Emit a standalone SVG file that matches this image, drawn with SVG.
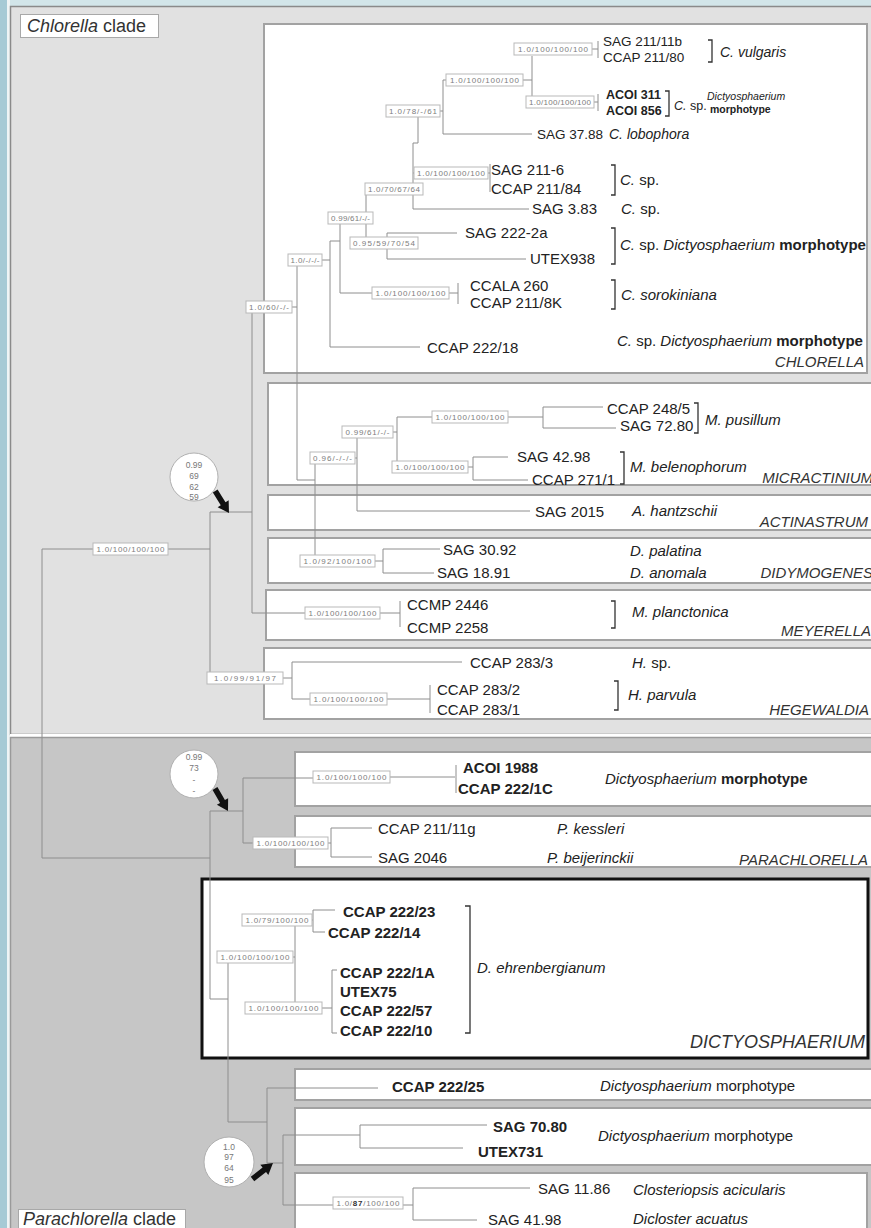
<svg xmlns="http://www.w3.org/2000/svg" xmlns:xlink="http://www.w3.org/1999/xlink" width="871" height="1228" viewBox="0 0 871 1228">
<style>
  text { font-family: "Liberation Sans", Arial, sans-serif; fill: #222; }
  .s15 { font-size: 15px; }
  .s14 { font-size: 14px; }
  .s13 { font-size: 13.5px; }
  .s12 { font-size: 12.5px; }
  .s10 { font-size: 10.5px; }
  .b { font-weight: bold; }
  .i { font-style: italic; }
  .genus { font-size: 15px; font-style: italic; text-anchor: end; fill: #333; }
  .box { fill: #fff; stroke: #a2a2a2; stroke-width: 2; }
  .ln { fill: none; stroke: #8e8e8e; stroke-width: 1; }
  .br { fill: none; stroke: #333; stroke-width: 1.3; }
  .lb rect { fill: #fff; stroke: #b9b9b9; stroke-width: 1; }
  .lb text { font-size: 8px; fill: #7d7d7d; text-anchor: middle; }
  .bub circle { fill: #fff; stroke: #b0b0b0; stroke-width: 1; }
  .bub text { font-size: 8.5px; fill: #777; text-anchor: middle; }
  .arw { fill: #111; }
  .clade rect { fill: #fff; stroke: #a8a8a8; stroke-width: 1; }
  .clade text { font-size: 18px; fill: #333; }
</style>
<defs>
  <path id="arrow" d="M0,-2.8 L15,-2.8 L15,-6.5 L26,0 L15,6.5 L15,2.8 L0,2.8 Z"/>
</defs>

<!-- page background and panels -->
<rect x="0" y="0" width="871" height="1228" fill="#d2e5e9"/>
<rect x="0" y="0" width="7" height="1228" fill="#a6cad5"/>
<rect x="7" y="0" width="3" height="1228" fill="#eef4f5"/>
<rect x="10.5" y="6.5" width="870" height="728" fill="#e1e1e1" stroke="#8a8a8a" stroke-width="1.5"/>
<rect x="10" y="734" width="861" height="3" fill="#ffffff"/>
<rect x="10.5" y="737.5" width="870" height="500" fill="#c6c6c6" stroke="#9a9a9a" stroke-width="1.5"/>

<!-- genus boxes -->
<g id="boxes">
  <rect class="box" x="264" y="24" width="603" height="349"/>
  <rect class="box" x="268" y="383" width="610" height="102"/>
  <rect class="box" x="268" y="495" width="610" height="35"/>
  <rect class="box" x="268" y="538" width="610" height="45"/>
  <rect class="box" x="266" y="590" width="612" height="50"/>
  <rect class="box" x="264" y="648" width="614" height="71"/>
  <rect class="box" x="295" y="752" width="583" height="54"/>
  <rect class="box" x="295" y="816" width="583" height="51"/>
  <rect x="202" y="879" width="666" height="179" fill="#fff" stroke="#111" stroke-width="3"/>
  <rect class="box" x="295" y="1069" width="583" height="31"/>
  <rect class="box" x="295" y="1108" width="583" height="57"/>
  <rect class="box" x="295" y="1173" width="572" height="70"/>
</g>

<!-- tree connectors -->
<g id="connectors" class="ln">
  <path d="M592,49 H598 M598,41 V58 M532,56 V96 M523,80 H532 M594,102 H598 M598,94 V111"/>
  <path d="M443,80 V134 M443,80 H446 M443,134 H532 M440,111 H443"/>
  <path d="M418,117 V143 H413 M413,143 V209 H529 M413,173 H414 M488,173 H490 M490,164 V192"/>
  <path d="M366,195 V238 M387,233 V259 M387,233 H457 M387,259 H526"/>
  <path d="M340,224 V293 H372 M449,293 H458 M458,283 V304"/>
  <path d="M330,241 H340 M330,241 V347 H420 M322,260 H330"/>
  <path d="M297,266 V480 H315 M292,307 H297"/>
  <path d="M252,313 V613 H305 M380,613 H400 M400,601 V627"/>
  <path d="M397,417 V467 M397,417 H432 M393,432 H397"/>
  <path d="M508,417 H543 M543,407 V428 M543,407 H603 M543,428 H616"/>
  <path d="M468,467 H473 M473,457 V480 M473,457 H508 M473,480 H528"/>
  <path d="M357,438 V511 H530 M355,458 H357 M315,463 V555"/>
  <path d="M375,561 H383 M383,549 V573 M383,549 H440 M383,573 H434"/>
  <path d="M210,512 V672 M210,512 H252"/>
  <path d="M283,678 H292 M292,662 V699 M292,662 H462 M292,699 H310 M387,699 H430 M430,685 V713"/>
  <path d="M42,549 H93 M168,549 H210 M42,549 V858 H210"/>
  <path d="M210,811 V999 H228 M210,811 H243 M243,778 V843 M243,778 H313 M390,777 H455 M456,765 V793"/>
  <path d="M243,843 H253 M328,843 H331 M331,828 V857 M331,828 H372 M331,857 H372"/>
  <path d="M228,963 V1122 H267 M293,957 H295 M295,926 V1002"/>
  <path d="M312,920 H313 M313,910 V932 M313,910 H335 M313,932 H325"/>
  <path d="M322,1008 H332 M332,970 V1033 M332,970 H337 M332,1033 H337"/>
  <path d="M267,1088 V1163 H283 M267,1088 H378 M283,1135 V1205 M283,1135 H360 M360,1125 V1148 M360,1125 H487 M360,1148 H463"/>
  <path d="M283,1205 H333 M403,1205 H413 M413,1188 V1220 M413,1188 H530 M413,1220 H477"/>
</g>

<!-- support values -->
<g id="support" class="lb">
  <g id="s1"><rect x="514" y="43" width="78" height="12"/><text x="553" y="52" textLength="70">1.0/100/100/100</text></g>
  <g id="s2"><rect x="446" y="74" width="77" height="12"/><text x="484.5" y="83" textLength="69">1.0/100/100/100</text></g>
  <g id="s3"><rect x="526" y="96" width="68" height="12"/><text x="560" y="105" textLength="62">1.0/100/100/100</text></g>
  <g id="s4"><rect x="386" y="105" width="54" height="12"/><text x="413" y="114" textLength="48">1.0/78/-/61</text></g>
  <g id="s6"><rect x="414" y="167" width="74" height="12"/><text x="451" y="176" textLength="68">1.0/100/100/100</text></g>
  <g id="s7"><rect x="365" y="183" width="58" height="12"/><text x="394" y="192" textLength="52">1.0/70/67/64</text></g>
  <g id="s9"><rect x="328" y="212" width="45" height="12"/><text x="350.5" y="221" textLength="39">0.99/61/-/-</text></g>
  <g id="s10"><rect x="350" y="237" width="68" height="12"/><text x="384" y="246" textLength="62">0.95/59/70/54</text></g>
  <g id="s13"><rect x="288" y="254" width="34" height="12"/><text x="305" y="263" textLength="29">1.0/-/-/-</text></g>
  <g id="s14"><rect x="372" y="287" width="77" height="12"/><text x="410.5" y="296" textLength="70">1.0/100/100/100</text></g>
  <g id="s15"><rect x="246" y="301" width="46" height="12"/><text x="269" y="310" textLength="40">1.0/60/-/-</text></g>
  <g id="s-m1"><rect x="432" y="411" width="76" height="12"/><text x="470" y="420" textLength="69">1.0/100/100/100</text></g>
  <g id="s-m2"><rect x="342" y="426" width="51" height="12"/><text x="367.5" y="435" textLength="44">0.99/61/-/-</text></g>
  <g id="s-m3"><rect x="392" y="461" width="76" height="12"/><text x="430" y="470" textLength="69">1.0/100/100/100</text></g>
  <g id="s-m4"><rect x="310" y="452" width="45" height="12"/><text x="332.5" y="461" textLength="39">0.96/-/-/-</text></g>
  <g id="s-d1"><rect x="300" y="555" width="75" height="12"/><text x="337.5" y="564" textLength="68">1.0/92/100/100</text></g>
  <g id="s-me"><rect x="305" y="607" width="75" height="12"/><text x="342.5" y="616" textLength="68">1.0/100/100/100</text></g>
  <g id="s-h1"><rect x="207" y="672" width="76" height="12"/><text x="245" y="681" textLength="62">1.0/99/91/97</text></g>
  <g id="s-h2"><rect x="310" y="693" width="77" height="12"/><text x="348.5" y="702" textLength="70">1.0/100/100/100</text></g>
  <g id="s-base"><rect x="93" y="543" width="75" height="12"/><text x="130.5" y="552" textLength="68">1.0/100/100/100</text></g>
  <g id="s-p1"><rect x="313" y="771" width="77" height="12"/><text x="351.5" y="780" textLength="70">1.0/100/100/100</text></g>
  <g id="s-p2"><rect x="253" y="837" width="75" height="12"/><text x="290.5" y="846" textLength="68">1.0/100/100/100</text></g>
  <g id="s-dc1"><rect x="242" y="914" width="70" height="12"/><text x="277" y="923" textLength="63">1.0/79/100/100</text></g>
  <g id="s-dc2"><rect x="217" y="951" width="76" height="12"/><text x="255" y="960" textLength="69">1.0/100/100/100</text></g>
  <g id="s-dc3"><rect x="245" y="1002" width="77" height="12"/><text x="283.5" y="1011" textLength="70">1.0/100/100/100</text></g>
  <g id="s-cl"><rect x="333" y="1197" width="70" height="12"/><text x="368" y="1206" textLength="63">1.0/<tspan font-weight="bold" fill="#333">87</tspan>/100/100</text></g>
</g>

<!-- Chlorella -->
<g id="chlorella">
  <g id="c-vulgaris">
    <text class="s13" x="603" y="46">SAG 211/11b</text>
    <text class="s13" x="603" y="62">CCAP 211/80</text>
    <path class="br" d="M708,40 H712 V62 H708"/>
    <text class="s14 i" x="720" y="57">C. vulgaris</text>
  </g>
  <g id="c-acoi">
    <text class="s12 b" x="606" y="99">ACOI 311</text>
    <text class="s12 b" x="606" y="115">ACOI 856</text>
    <path class="br" d="M665,91 H669 V116 H665"/>
    <text class="s12" x="674" y="110"><tspan class="i">C.</tspan> sp.</text>
    <text class="s10 i" x="707" y="100">Dictyosphaerium</text>
    <text class="s10 b" x="710" y="113">morphotype</text>
  </g>
  <g id="c-lobophora">
    <text class="s13" x="537" y="139">SAG 37.88</text>
    <text class="s14 i" x="609" y="139">C. lobophora</text>
  </g>
  <g id="c-sp1">
    <text class="s15" x="491" y="175">SAG 211-6</text>
    <text class="s15" x="491" y="194">CCAP 211/84</text>
    <path class="br" d="M611,165 H615 V195 H611"/>
    <text class="s15" x="620" y="185"><tspan class="i">C.</tspan> sp.</text>
  </g>
  <g id="c-sp2">
    <text class="s15" x="532" y="214">SAG 3.83</text>
    <text class="s15" x="621" y="214"><tspan class="i">C.</tspan> sp.</text>
  </g>
  <g id="c-sp3">
    <text class="s15" x="465" y="238">SAG 222-2a</text>
    <text class="s15" x="530" y="264">UTEX938</text>
    <path class="br" d="M611,228 H615 V264 H611"/>
    <text class="s15" x="620" y="250"><tspan class="i">C.</tspan> sp. <tspan class="i">Dictyosphaerium</tspan> <tspan class="b">morphotype</tspan></text>
  </g>
  <g id="c-sorokiniana">
    <text class="s15" x="470" y="291">CCALA 260</text>
    <text class="s15" x="470" y="308">CCAP 211/8K</text>
    <path class="br" d="M611,280 H615 V309 H611"/>
    <text class="s15 i" x="621" y="300">C. sorokiniana</text>
  </g>
  <g id="c-sp4">
    <text class="s15" x="427" y="353">CCAP 222/18</text>
    <text class="s15" x="617" y="346"><tspan class="i">C.</tspan> sp. <tspan class="i">Dictyosphaerium</tspan> <tspan class="b">morphotype</tspan></text>
  </g>
  <text class="genus" x="864" y="367">CHLORELLA</text>
</g>

<!-- Micractinium -->
<g id="micractinium">
  <g id="m-pusillum">
    <text class="s15" x="607" y="414">CCAP 248/5</text>
    <text class="s15" x="620" y="431">SAG 72.80</text>
    <path class="br" d="M694,403 H698 V433 H694"/>
    <text class="s15 i" x="705" y="425">M. pusillum</text>
  </g>
  <g id="m-belenophorum">
    <text class="s15" x="517" y="462">SAG 42.98</text>
    <text class="s15" x="532" y="485">CCAP 271/1</text>
    <path class="br" d="M620,452 H624 V484 H620"/>
    <text class="s15 i" x="630" y="472">M. belenophorum</text>
  </g>
  <text class="genus" x="873" y="483">MICRACTINIUM</text>
</g>

<!-- Actinastrum -->
<g id="actinastrum">
  <text class="s15" x="535" y="517">SAG 2015</text>
  <text class="s15 i" x="632" y="516">A. hantzschii</text>
  <text class="genus" x="868" y="527">ACTINASTRUM</text>
</g>

<!-- Didymogenes -->
<g id="didymogenes">
  <text class="s15" x="443" y="555">SAG 30.92</text>
  <text class="s15" x="437" y="578">SAG 18.91</text>
  <text class="s15 i" x="630" y="556">D. palatina</text>
  <text class="s15 i" x="630" y="578">D. anomala</text>
  <text class="genus" x="873" y="578">DIDYMOGENES</text>
</g>

<!-- Meyerella -->
<g id="meyerella">
  <text class="s15" x="407" y="610">CCMP 2446</text>
  <text class="s15" x="407" y="633">CCMP 2258</text>
  <path class="br" d="M611,601 H615 V628 H611"/>
  <text class="s15 i" x="632" y="617">M. planctonica</text>
  <text class="genus" x="871" y="636">MEYERELLA</text>
</g>

<!-- Hegewaldia -->
<g id="hegewaldia">
  <text class="s15" x="470" y="668">CCAP 283/3</text>
  <text class="s15" x="632" y="668"><tspan class="i">H.</tspan> sp.</text>
  <text class="s15" x="437" y="695">CCAP 283/2</text>
  <text class="s15" x="437" y="715">CCAP 283/1</text>
  <path class="br" d="M614,681 H618 V710 H614"/>
  <text class="s15 i" x="628" y="700">H. parvula</text>
  <text class="genus" x="869" y="715">HEGEWALDIA</text>
</g>

<!-- Parachlorella clade taxa -->
<g id="dicty-morph-1">
  <text class="s15 b" x="463" y="773">ACOI 1988</text>
  <text class="s15 b" x="458" y="794">CCAP 222/1C</text>
  <text class="s15" x="605" y="784"><tspan class="i">Dictyosphaerium</tspan> <tspan class="b">morphotype</tspan></text>
</g>
<g id="parachlorella">
  <text class="s15" x="378" y="834">CCAP 211/11g</text>
  <text class="s15" x="378" y="863">SAG 2046</text>
  <text class="s15 i" x="557" y="834">P. kessleri</text>
  <text class="s15 i" x="547" y="863">P. beijerinckii</text>
  <text class="genus" x="868" y="865">PARACHLORELLA</text>
</g>
<g id="dictyosphaerium">
  <text class="s15 b" x="343" y="917">CCAP 222/23</text>
  <text class="s15 b" x="328" y="938">CCAP 222/14</text>
  <text class="s15 b" x="340" y="978">CCAP 222/1A</text>
  <text class="s15 b" x="340" y="997">UTEX75</text>
  <text class="s15 b" x="340" y="1016">CCAP 222/57</text>
  <text class="s15 b" x="340" y="1036">CCAP 222/10</text>
  <path class="br" d="M465,906 H470 V1033 H465"/>
  <text class="s15 i" x="477" y="973">D. ehrenbergianum</text>
  <text class="genus" x="865" y="1048" style="font-size:18px">DICTYOSPHAERIUM</text>
</g>
<g id="dicty-morph-2">
  <text class="s15 b" x="392" y="1092">CCAP 222/25</text>
  <text class="s15" x="600" y="1091"><tspan class="i">Dictyosphaerium</tspan> morphotype</text>
</g>
<g id="dicty-morph-3">
  <text class="s15 b" x="493" y="1132">SAG 70.80</text>
  <text class="s15 b" x="478" y="1157">UTEX731</text>
  <text class="s15" x="598" y="1141"><tspan class="i">Dictyosphaerium</tspan> morphotype</text>
</g>
<g id="closteriopsis">
  <text class="s15" x="538" y="1194">SAG 11.86</text>
  <text class="s15" x="488" y="1225">SAG 41.98</text>
  <text class="s15 i" x="633" y="1195">Closteriopsis acicularis</text>
  <text class="s15 i" x="633" y="1224">Dicloster acuatus</text>
</g>

<!-- support bubbles with arrows -->
<g id="bubble-chlorella" class="bub">
  <circle cx="194" cy="477" r="24"/>
  <text x="194" y="468">0.99</text><text x="194" y="479">69</text><text x="194" y="490">62</text><text x="194" y="500">59</text>
  <use xlink:href="#arrow" href="#arrow" class="arw" transform="translate(215.2,491) rotate(58)"/>
</g>
<g id="bubble-parachlorella" class="bub">
  <circle cx="194" cy="774" r="24"/>
  <text x="194" y="760">0.99</text><text x="194" y="771">73</text><text x="194" y="783">-</text><text x="194" y="794">-</text>
  <use xlink:href="#arrow" href="#arrow" class="arw" transform="translate(215,788.5) rotate(60)"/>
</g>
<g id="bubble-lower" class="bub">
  <circle cx="229" cy="1162" r="25"/>
  <text x="229" y="1150">1.0</text><text x="229" y="1160">97</text><text x="229" y="1171">64</text><text x="229" y="1183">95</text>
  <use xlink:href="#arrow" href="#arrow" class="arw" transform="translate(252.5,1179) rotate(-38)"/>
</g>

<!-- clade captions -->
<g id="clade-chlorella" class="clade">
  <rect x="20.5" y="14.5" width="138" height="23"/>
  <text x="27" y="32"><tspan font-style="italic">Chlorella</tspan> clade</text>
</g>
<g id="clade-parachlorella" class="clade">
  <rect x="18.5" y="1209.5" width="167" height="22"/>
  <text x="23" y="1225"><tspan font-style="italic">Parachlorella</tspan> clade</text>
</g>
</svg>
